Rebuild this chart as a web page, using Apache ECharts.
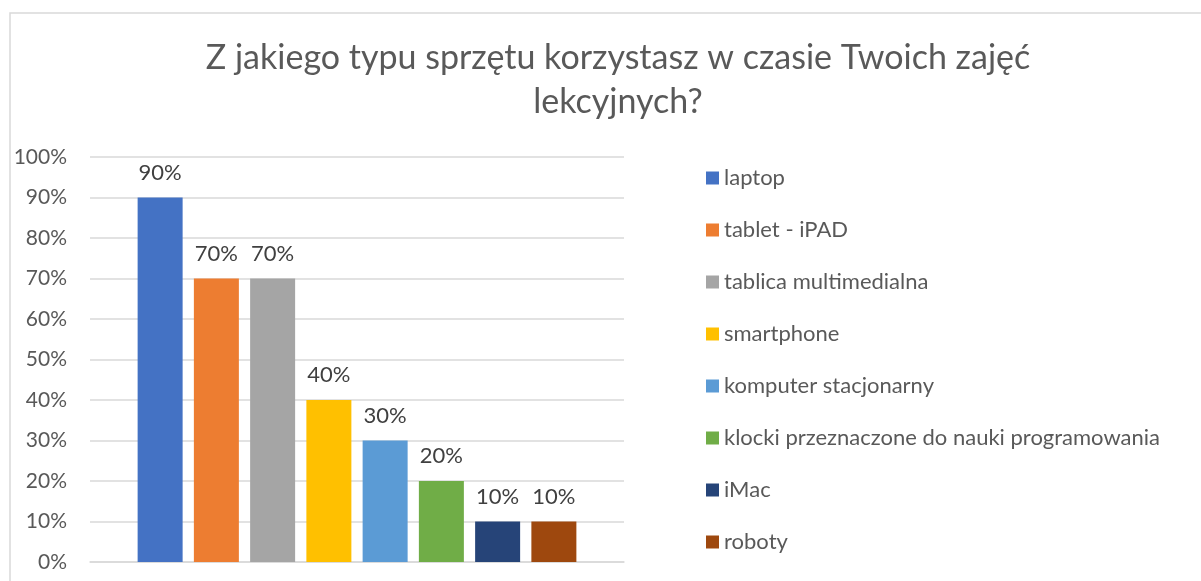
<!DOCTYPE html>
<html>
<head>
<meta charset="utf-8">
<script src="https://cdn.jsdelivr.net/npm/echarts@6/dist/echarts.min.js"></script>
<style>
  html, body { margin: 0; padding: 0; background: #fff; }
  #chart { width: 1201px; height: 581px; }
</style>
</head>
<body>
<div id="chart"></div>
<script>
var titleText = 'Z jakiego typu sprzętu korzystasz w czasie Twoich zajęć\nlekcyjnych?';
var seriesNames = ['laptop', 'tablet - iPAD', 'tablica multimedialna', 'smartphone',
    'komputer stacjonarny', 'klocki przeznaczone do nauki programowania', 'iMac', 'roboty'];
var seriesValues = [90, 70, 70, 40, 30, 20, 10, 10];
var seriesColors = ['#4472C4', '#ED7D31', '#A5A5A5', '#FFC000', '#5B9BD5', '#70AD47', '#264478', '#9E480E'];
var categories = [''];

var fontName = 'Lato';
var chart = echarts.init(document.getElementById('chart'));

var series = seriesNames.map(function(name, i) {
    return {
        name: name,
        type: 'bar',
        data: [seriesValues[i]],
        barWidth: 45,
        barGap: '25%',
        itemStyle: { color: seriesColors[i] },
        label: {
            show: true,
            position: 'top',
            distance: 14,
            formatter: '{c}%',
            color: '#404040',
            fontSize: 22,
            fontFamily: fontName
        }
    };
});

chart.setOption({
    animation: false,
    backgroundColor: '#fff',
    graphic: [{
        type: 'rect',
        shape: { x: 10, y: 13, width: 1400, height: 800 },
        style: { fill: 'none', stroke: '#d9d9d9', lineWidth: 1.5 },
        silent: true
    }],
    title: {
        text: titleText,
        left: 613,
        top: 31,
        textAlign: 'center',
        textStyle: {
            color: '#595959',
            fontSize: 34,
            fontWeight: 'normal',
            fontFamily: fontName,
            lineHeight: 44,
            align: 'center'
        }
    },
    legend: {
        orient: 'vertical',
        left: 701,
        top: 161,
        itemWidth: 13,
        itemHeight: 13,
        itemGap: 28,
        icon: 'rect',
        textStyle: { color: '#595959', fontSize: 22, fontFamily: fontName, lineHeight: 24 },
        data: seriesNames
    },
    grid: { left: 90, right: 577, top: 157, bottom: 19 },
    xAxis: {
        type: 'category',
        data: categories,
        axisLine: { show: true, lineStyle: { color: '#d9d9d9', width: 1.5 } },
        axisTick: { show: false },
        axisLabel: { show: false }
    },
    yAxis: {
        type: 'value',
        min: 0,
        max: 100,
        interval: 10,
        axisLine: { show: false },
        axisTick: { show: false },
        axisLabel: {
            formatter: '{value}%',
            color: '#595959',
            fontSize: 21,
            fontFamily: fontName,
            margin: 23
        },
        splitLine: { lineStyle: { color: '#d9d9d9', width: 1.5 } }
    },
    series: series
});
</script>
</body>
</html>
